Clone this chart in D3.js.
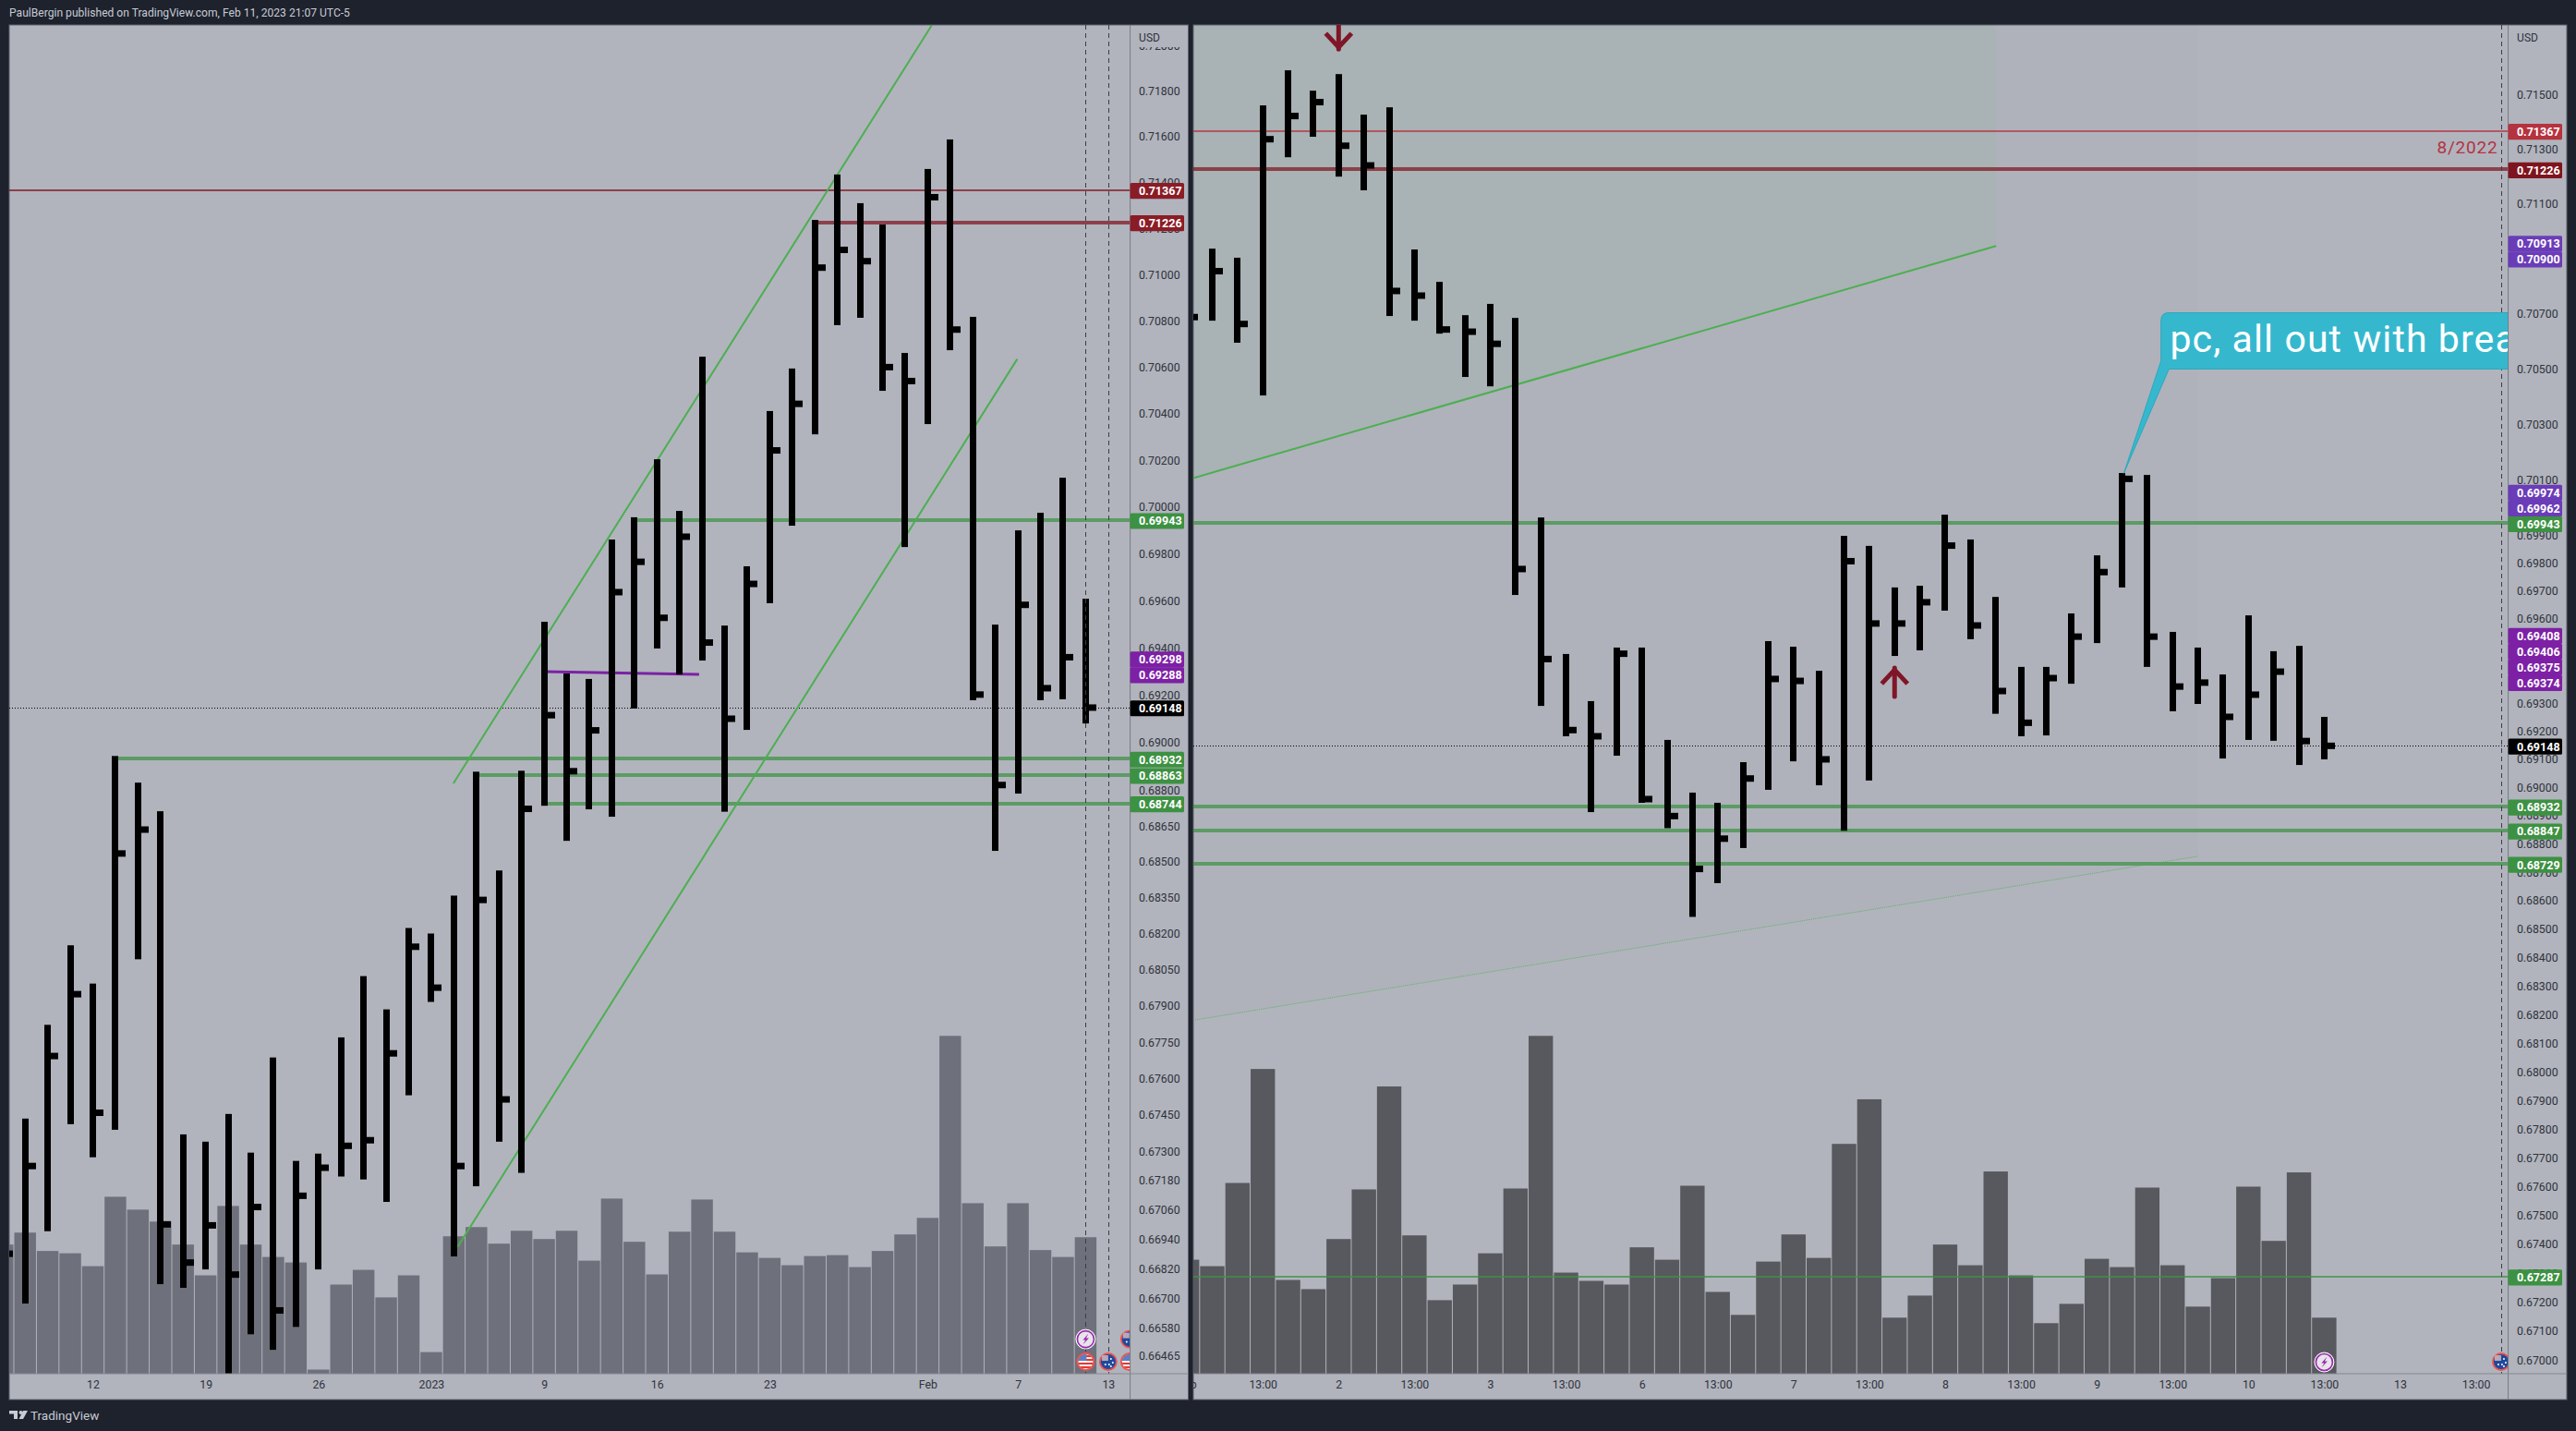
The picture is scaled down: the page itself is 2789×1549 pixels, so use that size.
<!DOCTYPE html>
<html><head><meta charset="utf-8"><title>AUDUSD</title>
<script src="https://cdn.jsdelivr.net/npm/d3@7"></script>
<style>
html,body{margin:0;background:#1e222d;overflow:hidden}
svg{display:block}
text{font-family:Roboto,"Noto Sans",sans-serif}
.axis text{font-size:12.3px;fill:#2f323b}
.axis .domain{display:none}
</style></head><body><svg id="c" width="2789" height="1549"></svg>
<script>
// ---------- left pane (daily) ----------
const leftHigh =[.67200,.67435,.67822,.68152,.67993,.68944,.68832,.68712,.67370,.67340,.67454,.67295,.67687,.67261,.67291,.67770,.68024,.67886,.68224,.68201,.68359,.68878,.68464,.68882,.69511,.69292,.69269,.69861,.69956,.70204,.69983,.70645,.69495,.69747,.70411,.70594,.71237,.71435,.71310,.71217,.70661,.71459,.71588,.70817,.69499,.69900,.69975,.70125,.69609];
const leftLow  =[.66500,.66678,.66973,.67412,.67276,.67389,.68094,.66757,.66742,.66817,.66385,.66553,.66490,.66583,.66817,.67197,.67185,.67093,.67531,.67917,.66870,.67157,.67340,.67212,.68735,.68588,.68720,.68689,.69144,.69398,.69288,.69347,.68710,.69054,.69590,.69920,.70311,.70781,.70813,.70498,.69829,.70355,.70673,.69179,.68546,.68786,.69179,.69183,.69081];
const leftClose=[.66881,.67240,.67693,.67949,.67459,.68535,.68635,.67001,.66845,.66997,.66796,.67072,.66650,.67118,.67233,.67323,.67346,.67704,.68146,.67976,.67240,.68341,.67514,.68722,.69116,.68880,.69052,.69637,.69766,.69528,.69873,.69423,.69101,.69672,.70242,.70442,.71030,.71107,.71058,.70600,.70540,.71336,.70762,.69203,.68822,.69583,.69230,.69361,.69148];
const leftVolume=[281,307,267,262,234,385,357,331,281,214,365,281,254,242,9,194,226,166,214,47,299,319,283,311,293,311,246,381,287,216,309,379,309,264,252,236,256,258,232,267,303,339,735,371,277,371,269,254,297];
const leftPriceTicks=[.72,.718,.716,.714,.712,.71,.708,.706,.704,.702,.70,.698,.696,.694,.692,.69,.688,.6865,.685,.6835,.682,.6805,.679,.6775,.676,.6745,.673,.6718,.6706,.6694,.6682,.667,.6658,.66465];
const leftDateTicks=[3,8,13,18,23,28,33,40,44,48];
const leftDateLabels=["12","19","26","2023","9","16","23","Feb","7","13"];
const leftLevels=[
 {p:.71367,from:null,w:2,c:"#7f141e",tag:"#8a1c26"},
 {p:.71226,from:35,w:4,c:"#7f141e",tag:"#8a1c26"},
 {p:.69943,from:27,w:4,c:"#3d9142",tag:"#3d9142"},
 {p:.68932,from:4,w:4,c:"#3d9142",tag:"#3d9142"},
 {p:.68863,from:20,w:4,c:"#3d9142",tag:"#3d9142"},
 {p:.68744,from:23,w:4,c:"#3d9142",tag:"#3d9142"}];
const leftExtraTags=[{p:.69298,tag:"#7d20a5"},{p:.69288,tag:"#7d20a5"}];
const leftChannelUpper=[[18.98,.68829],[40.19,.7209]];
const leftChannelLower=[[19.17,.66909],[43.97,.70635]];
const leftPurple=[[23,.693],[29.87,.69288]];

// ---------- right pane (4h) ----------
const rightHigh =[.70950,.70937,.70904,.71461,.71590,.71515,.71576,.71427,.71454,.70934,.70816,.70695,.70736,.70685,.69964,.69475,.69307,.69498,.69498,.69169,.68982,.68946,.69090,.69521,.69501,.69415,.69898,.69862,.69713,.69719,.69974,.69885,.69679,.69429,.69429,.69620,.69828,.70124,.70117,.69554,.69498,.69402,.69613,.69485,.69504,.69251];
const rightLow  =[.70500,.70675,.70595,.70404,.71271,.71346,.71200,.71150,.70692,.70675,.70628,.70471,.70437,.69686,.69290,.69182,.68913,.69113,.68946,.68856,.68543,.68662,.68786,.68992,.69093,.69008,.68847,.69025,.69468,.69488,.69630,.69528,.69262,.69182,.69185,.69369,.69514,.69713,.69429,.69271,.69297,.69103,.69169,.69166,.69080,.69100];
const rightClose=[.70688,.70855,.70663,.71337,.71422,.71473,.71313,.71241,.70783,.70766,.70643,.70635,.70591,.69779,.69457,.69204,.69182,.69476,.68959,.68899,.68712,.68819,.69032,.69386,.69379,.69100,.69807,.69584,.69584,.69660,.69863,.69577,.69343,.69230,.69389,.69537,.69768,.70103,.69537,.69359,.69373,.69251,.69330,.69412,.69165,.69148];
const rightVolume=[248,234,415,663,204,184,293,401,625,301,160,194,262,403,735,220,202,194,275,248,409,178,128,244,303,252,500,597,122,170,281,236,440,214,110,152,250,232,405,236,146,208,407,289,438,122];
const rightPriceTicks=[.715,.713,.711,.709,.707,.705,.703,.701,.699,.698,.697,.696,.695,.694,.693,.692,.691,.69,.689,.688,.687,.686,.685,.684,.683,.682,.681,.68,.679,.678,.677,.676,.675,.674,.673,.672,.671,.67];
const rightDateTicks=[-1,2,5,8,11,14,17,20,23,26,29,32,35,38,41,44,47,50];
const rightDateLabels=["Feb","13:00","2","13:00","3","13:00","6","13:00","7","13:00","8","13:00","9","13:00","10","13:00","13","13:00"];
const rightLevels=[
 {p:.71367,from:null,w:2,c:"#b5323f",tag:"#b5323f"},
 {p:.71226,from:null,w:4,c:"#7f141e",tag:"#7f141e"},
 {p:.69943,from:null,w:4,c:"#3d9142",tag:"#3d9142"},
 {p:.68932,from:null,w:4,c:"#3d9142",tag:"#3d9142"},
 {p:.68847,from:null,w:4,c:"#3d9142",tag:"#3d9142"},
 {p:.68729,from:null,w:4,c:"#3d9142",tag:"#3d9142"},
 {p:.67287,from:null,w:2,c:"#3d9142",tag:"#3d9142"}];
const rightExtraTags=[{p:.70913,tag:"#6b3cb8"},{p:.709,tag:"#6b3cb8"},{p:.69974,tag:"#6b3cb8"},{p:.69962,tag:"#6b3cb8"},{p:.69408,tag:"#7d20a5"},{p:.69406,tag:"#7d20a5"},{p:.69375,tag:"#7d20a5"},{p:.69374,tag:"#7d20a5"}];
const rightChannelUpper=[[-0.75,.70106],[31.02,.70947]];
const rightChannelLower=[[-0.68,.68181],[39.02,.68757]];
const lastPrice=.69148;

const svg=d3.select("#c");
const defs=svg.append("defs");
const fmt=d3.format(".5f");
const line=(x,y)=>d3.line().x(d=>x(d[0])).y(d=>y(d[1]));

function pane(o){
  const {id,x0,axisX,right,top,bottom,foot}=o;
  const x=d3.scaleLinear().domain(o.xDomain).range(o.xRange);
  const y=d3.scaleLog().domain(o.yDomain).range([top,bottom]);
  const v=d3.scaleLinear().domain([0,735]).range([bottom,bottom-365.7]);
  // background
  svg.append("rect").attr("x",x0).attr("y",top).attr("width",right-x0).attr("height",foot-top).attr("fill","#b1b4bd").attr("stroke","#5d616d").attr("stroke-width",1);
  defs.append("clipPath").attr("id",id).append("rect").attr("x",x0).attr("y",top).attr("width",axisX-x0).attr("height",bottom-top);
  defs.append("clipPath").attr("id",id+"t").append("rect").attr("x",x0).attr("y",bottom).attr("width",axisX-x0).attr("height",foot-bottom);
  const g=svg.append("g").attr("clip-path",`url(#${id})`);
  if(o.decorate) o.decorate(g,x,y);
  // volume
  g.selectAll(".v").data(o.vol).join("rect").attr("x",(d,i)=>x(i-1)-o.step/2+.5).attr("width",o.step-1)
    .attr("y",d=>v(d)).attr("height",d=>bottom-v(d)).attr("fill",o.volColor);
  // levels
  o.levels.forEach(l=>{
    const yy=Math.round(y(l.p));
    g.append("line").attr("x1",l.from==null?x0:x(l.from)).attr("x2",axisX).attr("y1",yy).attr("y2",yy)
     .attr("stroke",l.c).attr("stroke-opacity",.72).attr("stroke-width",l.w);
  });
  // last price dotted
  const ly=Math.round(y(lastPrice))+.5;
  g.append("line").attr("x1",x0).attr("x2",axisX).attr("y1",ly).attr("y2",ly).attr("stroke","#000").attr("stroke-width",1).attr("stroke-dasharray","1 2");
  if(o.overlay) o.overlay(g,x,y);
  // bars
  const bars=o.high.map((h,i)=>({i:i-1,h,l:o.low[i],c:o.close[i]}));
  const bw=7;
  g.selectAll(".b").data(bars).join("rect").attr("x",d=>Math.round(x(d.i)-bw/2)).attr("width",bw)
    .attr("y",d=>y(d.h)).attr("height",d=>y(d.l)-y(d.h)).attr("fill","#000");
  g.selectAll(".k").data(bars).join("rect").attr("x",d=>Math.round(x(d.i)-bw/2)).attr("width",bw+8)
    .attr("y",d=>y(d.c)-3.5).attr("height",7).attr("fill","#000");
  // dashed verticals
  (o.dashed||[]).forEach(i=>{
    const vx=Math.round(x(i))+.5;
    g.append("line").attr("x1",vx).attr("x2",vx).attr("y1",top).attr("y2",bottom).attr("stroke","#3a3d45").attr("stroke-width",1).attr("stroke-dasharray","5 4");
  });
  if(o.front) o.front(g,x,y);
  // axis frame
  svg.append("line").attr("x1",axisX).attr("x2",axisX).attr("y1",top).attr("y2",foot).attr("stroke","#787b84");
  svg.append("line").attr("x1",x0).attr("x2",right).attr("y1",bottom).attr("y2",bottom).attr("stroke","#858891");
  // price axis
  const ax=svg.append("g").attr("class","axis").attr("transform",`translate(${axisX},0)`)
    .call(d3.axisRight(y).tickValues(o.priceTicks).tickFormat(fmt).tickSize(0).tickPadding(9.3));
  ax.selectAll("text").attr("text-anchor","start");
  // cover + USD
  svg.append("rect").attr("x",axisX+1).attr("y",top+1).attr("width",right-axisX-2).attr("height",23).attr("fill","#b1b4bd");
  svg.append("text").attr("x",axisX+9.5).attr("y",top+17.5).attr("font-size",12).attr("fill","#2f323b").text("USD");
  // time axis
  svg.append("g").attr("clip-path",`url(#${id}t)`).append("g").attr("class","axis").attr("transform",`translate(0,${bottom})`)
    .call(d3.axisBottom(x).tickValues(o.dateTicks).tickFormat((d,i)=>o.dateLabels[i]).tickSize(0).tickPadding(7.5));
  // tags, stacked upward from the lowest price
  const tags=o.levels.concat(o.extra,[{p:lastPrice,tag:"#000"}]).sort((a,b)=>a.p-b.p);
  let prev=1e9;
  tags.forEach(t=>{t.yy=Math.min(y(t.p)+.8,prev-17);prev=t.yy;});
  const tg=svg.append("g").selectAll("g").data(tags).join("g").attr("transform",d=>`translate(${axisX},${d.yy})`);
  tg.append("rect").attr("x",0).attr("y",-8.6).attr("width",o.tagW).attr("height",17.2).attr("rx",1.5).attr("fill",d=>d.tag);
  tg.append("text").attr("x",9.3).attr("y",4.4).attr("font-size",12.5).attr("font-weight",700).attr("fill","#fff").text(d=>fmt(d.p));
  return {x,y};
}

// ---------- small marker helpers ----------
function bolt(g,cx,cy){
  g.append("circle").attr("cx",cx).attr("cy",cy).attr("r",10.5).attr("fill","#d6d7db").attr("stroke","#fff").attr("stroke-width",1);
  g.append("circle").attr("cx",cx).attr("cy",cy).attr("r",9).attr("fill","#e7e4ea").attr("stroke","#9c27b0").attr("stroke-width",1.6);
  g.append("path").attr("d",`M${cx+3},${cy-6}L${cx-3},${cy+1}H${cx}L${cx-3},${cy+6}L${cx+3.5},${cy-1}H${cx+.5}Z`).attr("fill","#9c27b0");
}
function flagUS(g,cx,cy){
  const id="us"+Math.round(cx)+"_"+Math.round(cy);
  defs.append("clipPath").attr("id",id).append("circle").attr("cx",cx).attr("cy",cy).attr("r",8.2);
  const f=g.append("g").attr("clip-path",`url(#${id})`);
  f.append("rect").attr("x",cx-9).attr("y",cy-9).attr("width",18).attr("height",18).attr("fill","#f5f0f0");
  d3.range(4).forEach(i=>f.append("rect").attr("x",cx-9).attr("y",cy-7+i*4).attr("width",18).attr("height",2).attr("fill","#e53935"));
  f.append("rect").attr("x",cx-9).attr("y",cy-9).attr("width",10).attr("height",8).attr("fill","#5c7fc4");
  g.append("circle").attr("cx",cx).attr("cy",cy).attr("r",9).attr("fill","none").attr("stroke","#ef5350").attr("stroke-width",1.8);
}
function flagAU(g,cx,cy){
  g.append("circle").attr("cx",cx).attr("cy",cy).attr("r",9).attr("fill","#1f4a9c").attr("stroke","#ef5350").attr("stroke-width",1.8);
  g.append("rect").attr("x",cx-7).attr("y",cy-7).attr("width",7).attr("height",6).attr("fill","#b9a8b8");
  [[3,-3],[5,1],[1,3],[3,5],[-3,3]].forEach(p=>g.append("circle").attr("cx",cx+p[0]).attr("cy",cy+p[1]).attr("r",1).attr("fill","#fff"));
}
function arrow(g,cx,tip,dir,len){
  const p=`M${cx},${tip+dir*len}L${cx},${tip}`;
  g.append("path").attr("d",p).attr("stroke","#7f1628").attr("stroke-width",5).attr("fill","none").attr("stroke-linecap","round");
  g.append("path").attr("d",`M${cx-14},${tip+dir*17}L${cx},${tip+dir*2}L${cx+14},${tip+dir*17}`).attr("stroke","#7f1628").attr("stroke-width",5).attr("fill","none").attr("stroke-linejoin","miter");
}

// ---------- chrome ----------
svg.append("text").attr("x",10).attr("y",18).attr("font-size",12.1).attr("fill","#c8ccd4").text("PaulBergin published on TradingView.com, Feb 11, 2023 21:07 UTC-5");

pane({id:"pl",x0:10,axisX:1223.6,right:1286.5,top:27,bottom:1487,foot:1515,
  xDomain:[0,47],xRange:[27.2,1175.4],step:24.43,yDomain:[.7209,.66393],
  high:leftHigh,low:leftLow,close:leftClose,vol:leftVolume,volColor:"#6e707b",
  levels:leftLevels,extra:leftExtraTags,priceTicks:leftPriceTicks,dateTicks:leftDateTicks,dateLabels:leftDateLabels,tagW:58.4,dashed:[47,48],
  overlay:(g,x,y)=>{
    const l=line(x,y);
    [leftChannelUpper,leftChannelLower].forEach(d=>g.append("path").attr("d",l(d)).attr("fill","none").attr("stroke","#4caf50").attr("stroke-width",2));
    g.append("path").attr("d",l(leftPurple)).attr("fill","none").attr("stroke","#7b22a3").attr("stroke-width",3);
  },
  front:(g,x,y)=>{
    bolt(g,x(47),1449.6);flagUS(g,x(47),1474);flagAU(g,x(48),1474);flagAU(g,1222.8,1449.6);flagUS(g,1222.8,1474);
  }});

pane({id:"pr",x0:1292,axisX:2715.6,right:2779,top:27,bottom:1487,foot:1515,
  xDomain:[0,44],xRange:[1312.5,2516.4],step:27.36,yDomain:[.71757,.66953],
  high:rightHigh,low:rightLow,close:rightClose,vol:rightVolume,volColor:"#58595e",
  levels:rightLevels,extra:rightExtraTags,priceTicks:rightPriceTicks,dateTicks:rightDateTicks,dateLabels:rightDateLabels,tagW:58.4,dashed:[51],
  decorate:(g,x,y)=>{
    const topP=y.domain()[0], u=rightChannelUpper, w=rightChannelLower;
    g.append("path").attr("d",d3.line().x(d=>x(d[0])).y(d=>y(d[1]))([[w[0][0],topP],[w[1][0],topP],w[1],w[0]])).attr("fill","rgba(60,60,70,.012)");
    g.append("path").attr("d",d3.line().x(d=>x(d[0])).y(d=>y(d[1]))([[u[0][0],topP],[u[1][0],topP],u[1],u[0]])).attr("fill","rgba(76,175,80,.055)");
  },
  overlay:(g,x,y)=>{
    const l=line(x,y);
    g.append("path").attr("d",l(rightChannelUpper)).attr("fill","none").attr("stroke","#4caf50").attr("stroke-width",2);
    g.append("path").attr("d",l(rightChannelLower)).attr("fill","none").attr("stroke","#4caf50").attr("stroke-width",1).attr("stroke-dasharray","1 1").attr("stroke-opacity",.8);
  },
  front:(g,x,y)=>{
    arrow(g,x(5),y(.71668),-1,30);
    arrow(g,x(27),y(.69425),1,31);
    // callout
    const tx=x(36.07), ty=y(.70123);
    g.append("path").attr("d",`M2348,338.5H2716V399.5H2348.3L${tx},${ty}L2339.7,390.5V347Q2339.7,338.5 2348,338.5Z`).attr("fill","#35b8ce").attr("stroke","#2ea7bc").attr("stroke-width",1);
    g.append("text").attr("x",2349.5).attr("y",380.5).attr("font-size",41).attr("letter-spacing",1.1).attr("font-family","'Open Sans','Noto Sans',sans-serif").attr("fill","#fff").text("pc, all out with break");
    g.append("text").attr("x",2704.5).attr("y",166).attr("text-anchor","end").attr("font-size",19).attr("letter-spacing",.8).attr("fill","#b5323f").text("8/2022");
    bolt(g,x(44),1474.5);flagAU(g,x(51),1474);
  }});

// logo
const lg=svg.append("g").attr("transform","translate(10,1527)").attr("fill","#c8ccd4");
lg.append("path").attr("d","M0,0H9V9H5V3.5H0Z");
lg.append("circle").attr("cx",12.5).attr("cy",2).attr("r",2);
lg.append("path").attr("d","M15,0H20L15,9H10.5Z");
svg.append("text").attr("x",33).attr("y",1537).attr("font-size",13.5).attr("fill","#c8ccd4").text("TradingView");
</script></body></html>
